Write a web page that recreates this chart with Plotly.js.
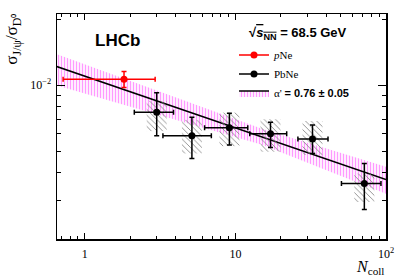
<!DOCTYPE html>
<html>
<head>
<meta charset="utf-8">
<script src="https://cdn.plot.ly/plotly-3.0.1.min.js"></script>
<style>html,body{margin:0;padding:0;background:#fff;}#chart{width:407px;height:278px;}</style>
</head>
<body>
<div id="chart"></div>
<script>
// pNe point
var pNeX = [1.82];
var pNeXlo = [0.717];
var pNeXhi = [2.93];
var pNeY = [0.01065];
var pNeYlo = [0.00975];
var pNeYhi = [0.01154];

// PbNe points
var pbX = [3.0, 5.14, 9.12, 17.1, 32.5, 71.8];
var pbXlo = [2.13, 3.30, 6.24, 12.45, 26.0, 50.6];
var pbXhi = [3.88, 6.92, 12.08, 21.9, 41.2, 92.6];
var pbY = [0.00753, 0.00589, 0.0064, 0.00601, 0.00569, 0.00357];
var pbStatLo = [0.00589, 0.00464, 0.00534, 0.00521, 0.00489, 0.00272];
var pbStatHi = [0.00925, 0.00714, 0.00745, 0.00678, 0.00659, 0.0044];
var pbSystLo = [0.00618, 0.00489, 0.00528, 0.00498, 0.00481, 0.00294];
var pbSystHi = [0.00848, 0.00695, 0.0075, 0.0070, 0.00687, 0.00396];

// fit line and band
var fitN = [0.65, 100];
var fitY = [0.01216, 0.003725];
var bandN = [0.65, 15, 100];
var bandLo = [0.00998, 0.00536, 0.00321];
var bandHi = [0.01385, 0.00634, 0.00425];

// ticks
var xTickVals = [1, 10, 100];
var xTickText = ['1', '10', '10<sup>2</sup>'];
var xMinor = [0.7, 0.8, 0.9, 2, 3, 4, 5, 6, 7, 8, 9, 20, 30, 40, 50, 60, 70, 80, 90];
var yTickVals = [0.01];
var yTickText = ['10<sup>\u22122</sup>'];
var yMinor = [0.002, 0.003, 0.004, 0.005, 0.006, 0.007, 0.008, 0.009, 0.02];

var BOXF = 1.165;
var SERIF = 'Liberation Serif, Times New Roman, serif';
var SANS = 'Liberation Sans, Arial, sans-serif';

function diff(a, b) { return a.map(function (v, i) { return v - b[i]; }); }

var bandPattern = {shape: '|', fgcolor: '#ff44ff', bgcolor: 'rgba(0,0,0,0)', size: 3, solidity: 0.45, fgopacity: 0.55};
var traces = [];
traces.push({x: bandN, y: bandLo, mode: 'lines', line: {width: 0, color: 'rgba(0,0,0,0)'}, showlegend: false, hoverinfo: 'skip'});
traces.push({x: fitN, y: fitY, mode: 'lines', line: {width: 1.5, color: '#000'}, fill: 'tonexty',
  fillcolor: 'rgba(0,0,0,0)', fillpattern: bandPattern,
  name: "\u03b1' <span style=\"font-family:Liberation Sans\"><b>= 0.76 \u00b1 0.05</b></span>", legendrank: 3});
traces.push({x: bandN, y: bandHi, mode: 'lines', line: {width: 0, color: 'rgba(0,0,0,0)'}, fill: 'tonexty',
  fillcolor: 'rgba(0,0,0,0)', fillpattern: bandPattern, showlegend: false, hoverinfo: 'skip'});

// systematic boxes
for (var i = 0; i < pbX.length; i++) {
  var xa = pbX[i] / BOXF, xb = pbX[i] * BOXF;
  traces.push({x: [xa, xb, xb, xa, xa], y: [pbSystLo[i], pbSystLo[i], pbSystHi[i], pbSystHi[i], pbSystLo[i]],
    mode: 'lines', line: {width: 0, color: 'rgba(0,0,0,0)'}, fill: 'toself', fillcolor: 'rgba(0,0,0,0)',
    fillpattern: {shape: '\\', fgcolor: '#888', bgcolor: 'rgba(0,0,0,0)', size: 4, solidity: 0.22},
    showlegend: false, hoverinfo: 'skip'});
}

// data points
traces.push({x: pbX, y: pbY, mode: 'markers', marker: {color: '#000', size: 7}, showlegend: false,
  error_x: {type: 'data', symmetric: false, array: diff(pbXhi, pbX), arrayminus: diff(pbX, pbXlo), color: '#000', thickness: 1.5, width: 2.5},
  error_y: {type: 'data', symmetric: false, array: diff(pbStatHi, pbY), arrayminus: diff(pbY, pbStatLo), color: '#000', thickness: 1.5, width: 2.5}});
traces.push({x: pNeX, y: pNeY, mode: 'markers', marker: {color: '#ff0000', size: 7}, showlegend: false,
  error_x: {type: 'data', symmetric: false, array: diff(pNeXhi, pNeX), arrayminus: diff(pNeX, pNeXlo), color: '#ff0000', thickness: 1.5, width: 2.5},
  error_y: {type: 'data', symmetric: false, array: diff(pNeYhi, pNeY), arrayminus: diff(pNeY, pNeYlo), color: '#ff0000', thickness: 1.5, width: 2.5}});

// legend proxies
traces.push({x: [null], y: [null], mode: 'lines+markers', marker: {color: '#ff0000', size: 7}, line: {color: '#ff0000', width: 1.5},
  name: '<i>p</i>Ne', legendrank: 1});
traces.push({x: [null], y: [null], mode: 'lines+markers', marker: {color: '#000', size: 7}, line: {color: '#000', width: 1.5},
  name: 'PbNe', legendrank: 2});

var axisCommon = {
  type: 'log', showgrid: false, zeroline: false, showline: true, linecolor: '#000', linewidth: 1.5,
  mirror: 'ticks', ticks: 'inside', tickcolor: '#000', tickwidth: 1, tickmode: 'array',
  tickfont: {family: SERIF, size: 12, color: '#000'}
};

var layout = {
  width: 407, height: 278,
  margin: {l: 57, r: 21, t: 14, b: 39, pad: 0},
  paper_bgcolor: '#fff', plot_bgcolor: '#fff',
  showlegend: true,
  legend: {x: 0.538, y: 0.882, xanchor: 'left', yanchor: 'top', bgcolor: 'rgba(0,0,0,0)', borderwidth: 0,
    traceorder: 'normal',
    font: {family: SERIF, size: 11, color: '#000'}, itemwidth: 30, tracegroupgap: 0},
  xaxis: Object.assign({}, axisCommon, {
    range: [-0.185, 2], tickvals: xTickVals, ticktext: xTickText, ticklen: 6, ticklabelstandoff: 3,
    minor: {tickmode: 'array', tickvals: xMinor, ticks: 'inside', ticklen: 3, tickcolor: '#000', tickwidth: 1, showgrid: false}
  }),
  yaxis: Object.assign({}, axisCommon, {
    range: [-2.700, -1.676], tickvals: yTickVals, ticktext: yTickText, ticklen: 8, ticklabelstandoff: 2,
    minor: {tickmode: 'array', tickvals: yMinor, ticks: 'inside', ticklen: 4, tickcolor: '#000', tickwidth: 1, showgrid: false}
  }),
  annotations: [
    {text: '<b>LHCb</b>', xref: 'paper', yref: 'paper', x: 0.1854, y: 0.884, xanchor: 'center', yanchor: 'middle',
      showarrow: false, font: {family: SANS, size: 17, color: '#000'}},
    {text: '<b>\u221a<span style="text-decoration:overline"><i>s</i><sub>NN</sub></span> = 68.5 GeV</b>', xref: 'paper', yref: 'paper',
      x: 0.5775, y: 0.9155, xanchor: 'left', yanchor: 'middle', showarrow: false, font: {family: SANS, size: 13, color: '#000'}},
    {text: '<i>N</i><sub>coll</sub>', xref: 'paper', yref: 'paper', x: 1.0, y: -0.125, xanchor: 'right', yanchor: 'middle',
      showarrow: false, font: {family: SERIF, size: 16, color: '#000'}},
    {text: '\u03c3<sub>J/\u03c8</sub>/\u03c3<sub>D\u2070</sub>', xref: 'paper', yref: 'paper', x: -0.134, y: 0.89,
      xanchor: 'center', yanchor: 'middle', textangle: -90, showarrow: false, font: {family: SERIF, size: 17, color: '#000'}}
  ]
};

Plotly.newPlot('chart', traces, layout, {displayModeBar: false, staticPlot: true});
</script>
</body>
</html>
